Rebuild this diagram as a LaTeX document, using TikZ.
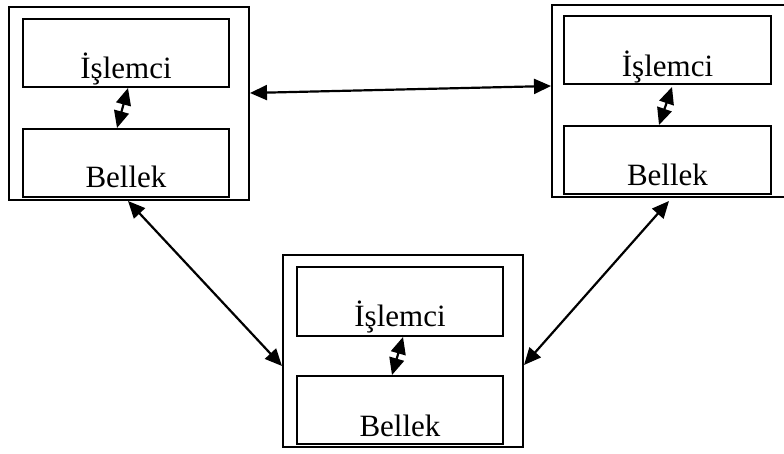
\documentclass[tikz,border=0pt]{standalone}
\usepackage{fontspec}
\setmainfont{Liberation Serif}
\usetikzlibrary{arrows.meta}
\begin{document}
\begin{tikzpicture}[x=1pt,y=-1pt,
  outerbox/.style={draw, line width=2pt, inner sep=0pt, minimum width=240pt},
  innerbox/.style={draw, line width=2pt, inner sep=0pt, minimum width=206pt, minimum height=68pt},
  boxtext/.style={anchor=base, inner sep=0pt, font=\fontsize{31}{37}\selectfont},
  link/.style={line width=2.2pt, {Triangle[length=17pt,width=15pt]}-{Triangle[length=17pt,width=15pt]}}
]
\useasboundingbox (0,0) rectangle (784,454);
\clip (0,0) rectangle (784,454);

% left unit
\node[outerbox, minimum height=193pt] (L) at (129,103.5) {};
\node[innerbox] (cpuL) at (126,53) {};
\node[innerbox] (memL) at (126,163) {};
\node[boxtext] (tcpuL) at ([yshift=9pt]cpuL.south) {İşlemci};
\node[boxtext] (tmemL) at ([yshift=10pt]memL.south) {Bellek};

% right unit
\node[outerbox, minimum height=192pt] (R) at (672,101) {};
\node[innerbox, minimum width=207pt] (cpuR) at (667.5,50) {};
\node[innerbox, minimum width=207pt] (memR) at (667.5,160) {};
\node[boxtext] (tcpuR) at ([yshift=8pt]cpuR.south) {İşlemci};
\node[boxtext] (tmemR) at ([yshift=9pt]memR.south) {Bellek};

% bottom unit
\node[outerbox, minimum height=192pt] (B) at (403,351) {};
\node[innerbox, minimum height=69pt] (cpuB) at (400,301.5) {};
\node[innerbox] (memB) at (400,410) {};
\node[boxtext] (tcpuB) at ([yshift=11pt]cpuB.south) {İşlemci};
\node[boxtext] (tmemB) at ([yshift=9pt]memB.south) {Bellek};

% processor-memory links inside each unit
\draw[link] ([xshift=-9pt]memL.north) -- ([xshift=2pt]cpuL.south);
\draw[link] ([xshift=-8.5pt]memR.north) -- ([xshift=4.5pt,yshift=-2pt]cpuR.south);
\draw[link] ([xshift=-8pt]memB.north) -- ([xshift=3pt]cpuB.south);

% links between units
\draw[link] ([yshift=10.5pt]L.east) -- ([yshift=15pt]R.west);
\draw[link] ([xshift=-1pt]L.south) -- ([yshift=-15pt]B.west);
\draw[link] ([yshift=-14pt]B.east) -- ([xshift=-3pt,yshift=-3pt]R.south);
\end{tikzpicture}
\end{document}
